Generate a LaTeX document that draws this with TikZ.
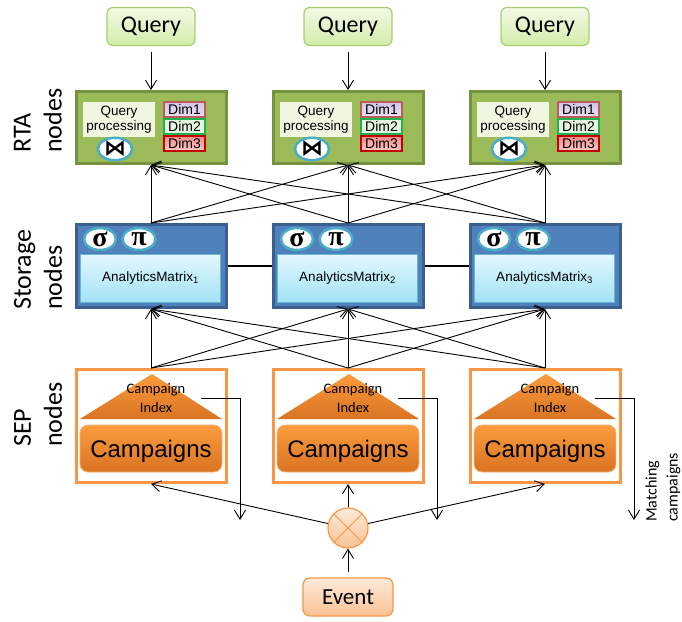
\documentclass[tikz,border=0pt]{standalone}
\usepackage{fontspec}
\setmainfont{Liberation Sans}
\newfontfamily\calibfont{Carlito}
\newfontfamily\symbfont{Liberation Serif}
\newfontfamily\dejavufont{DejaVu Sans}
\usetikzlibrary{arrows.meta,shapes.geometric}

% palette
\definecolor{qfillT}{HTML}{F3FAE6}
\definecolor{qfillB}{HTML}{D3ECAA}
\definecolor{qdraw}{HTML}{A8CD6E}
\definecolor{rtafill}{HTML}{9BBB59}
\definecolor{rtadraw}{HTML}{76913F}
\definecolor{qpfill}{HTML}{F0F7E1}
\definecolor{opblue}{HTML}{4BACC6}
\definecolor{stfill}{HTML}{4F81BD}
\definecolor{stdraw}{HTML}{3B6090}
\definecolor{amT}{HTML}{E2F7FD}
\definecolor{amB}{HTML}{A2E3F5}
\definecolor{seporange}{HTML}{F79646}
\definecolor{campT}{HTML}{FB9C3E}
\definecolor{campB}{HTML}{D97322}
\definecolor{campline}{HTML}{F8B47C}
\definecolor{dimAT}{HTML}{D2C3E6}
\definecolor{dimAB}{HTML}{EAE2F3}
\definecolor{dimAdraw}{HTML}{BD5A5C}
\definecolor{dimBfill}{HTML}{E6F6E2}
\definecolor{dimBdraw}{HTML}{1DB14F}
\definecolor{dimCT}{HTML}{F48A8A}
\definecolor{dimCB}{HTML}{FFCACA}
\definecolor{dimCdraw}{HTML}{C40000}
\definecolor{evT}{HTML}{FDEADB}
\definecolor{evB}{HTML}{FBC293}

\begin{document}
\begin{tikzpicture}[x=1pt,y=-1pt,
  querybox/.style={draw=qdraw, line width=1.2pt, rounded corners=6pt,
    top color=qfillT, bottom color=qfillB, minimum width=88pt, minimum height=38pt,
    font=\calibfont\fontsize{24}{28}\selectfont},
  rtabox/.style={draw=rtadraw, fill=rtafill, line width=3pt,
    minimum width=150pt, minimum height=72pt},
  qproc/.style={fill=qpfill, minimum width=72pt, minimum height=35pt, inner sep=0pt,
    align=center, font=\fontsize{13.5}{15}\selectfont},
  opnode/.style={ellipse, draw=opblue, fill=white, line width=2.5pt,
    minimum height=20pt, inner sep=0pt},
  dimbox/.style={minimum width=41pt, minimum height=15pt, line width=1.2pt,
    inner sep=0pt, font=\fontsize{14}{14}\selectfont},
  stbox/.style={draw=stdraw, fill=stfill, line width=3pt,
    minimum width=150pt, minimum height=83pt},
  matrixbox/.style={draw=opblue!85, line width=1pt, top color=amT, bottom color=amB,
    minimum width=140pt, minimum height=48pt, inner sep=0pt,
    font=\fontsize{13.5}{15}\selectfont},
  sepbox/.style={draw=seporange, fill=white, line width=3pt,
    minimum width=150pt, minimum height=113pt},
  campbox/.style={draw=campline, line width=0.8pt, rounded corners=8pt,
    top color=campT, bottom color=campB, minimum width=142pt, minimum height=47pt,
    font=\fontsize{24}{28}\selectfont},
  idxtext/.style={align=center, inner sep=0pt, font=\calibfont\fontsize{14.5}{19}\selectfont},
  sidelabel/.style={rotate=90, anchor=west, align=left, inner sep=0pt,
    font=\calibfont\fontsize{26}{31}\selectfont},
  opsym/.style={font=\symbfont\bfseries\fontsize{28}{28}\selectfont},
  joinsym/.style={font=\dejavufont\bfseries\fontsize{22}{22}\selectfont},
  flow/.style={line width=0.9pt, -{Straight Barb[length=9pt,width=11pt]}}
]
\useasboundingbox (0,0) rectangle (682,621);

% layer labels
\node[sidelabel] (lrta) at (38,153) {RTA\\nodes};
\node[sidelabel] (lst) at (38,310) {Storage\\nodes};
\node[sidelabel] (lsep) at (38,447) {SEP\\nodes};

% queries and analytics nodes
\foreach \k/\cx in {1/151,2/348,3/545}{
  \node[querybox] (q\k) at (\cx,26.5) {Query};
  \node[rtabox] (rta\k) at (\cx,127.5) {};
  \node[qproc] (qp\k) at (\cx-32,119.5) {Query\\processing};
}
\foreach \k/\cx in {1/151,2/348,3/545}{
  \node[opnode, minimum width=34pt, joinsym] (join\k) at (\cx-36,149) {⋈};
}
\foreach \k/\cx in {1/151,2/348,3/545}{
  \node[dimbox, draw=dimAdraw, top color=dimAT, bottom color=dimAB] (da\k) at (\cx+33.5,109.5) {Dim1};
  \node[dimbox, draw=dimBdraw, fill=dimBfill] (db\k) at (\cx+33.5,126.5) {Dim2};
  \node[dimbox, draw=dimCdraw, top color=dimCT, bottom color=dimCB] (dc\k) at (\cx+33.5,143.5) {Dim3};
}
\foreach \k in {1,2,3}{
  \draw[flow, shorten <=6pt] (q\k.south) -- (rta\k.north);
}

% storage nodes
\foreach \k/\cx in {1/151,2/348,3/545}{
  \node[stbox] (st\k) at (\cx,266) {};
  \node[matrixbox] (am\k) at (\cx-0.5,278) {AnalyticsMatrix\textsubscript{\k}};
}
\foreach \k/\cx in {1/151,2/348,3/545}{
  \node[opnode, minimum width=32pt, minimum height=22pt, opsym] (sel\k) at (\cx-51,239) {σ};
  \node[opnode, minimum width=33pt, minimum height=22pt, opsym] (proj\k) at (\cx-12,239) {π};
}

% SEP nodes
\foreach \k/\cx in {1/151,2/348,3/545}{
  \node[sepbox] (sep\k) at (\cx,426) {};
}
\foreach \k/\cx in {1/151,2/348,3/545}{
  \shade[top color=campT, bottom color=campB] (\cx+1,374) -- (\cx+71,419) -- (\cx-71,419) -- cycle;
}
\foreach \k/\cx in {1/151,2/348,3/545}{
  \node[idxtext] (idx\k) at (\cx+5,398) {Campaign\\Index};
  \node[campbox, text depth=1pt] (camp\k) at (\cx,448.5) {\raisebox{-2pt}{Campaigns}};
}

% matching campaigns output
\foreach \k/\cx in {1/151,2/348,3/545}{
  \coordinate (ms\k) at (\cx+50,398);
  \coordinate (me\k) at (\cx+89,520);
}
\foreach \k in {1,2,3}{
  \draw[flow] (ms\k) -| (me\k);
}

% storage interconnect
\draw[line width=2pt] (st1.east) -- (st2.west);
\draw[line width=2pt] (st2.east) -- (st3.west);

% all-to-all connections between layers
\foreach \a in {1,2,3}{
  \foreach \b in {1,2,3}{
    \draw[flow] (sep\a.north) -- (st\b.south);
    \draw[flow] (st\a.north) -- (rta\b.south);
  }
}

% event dispatch
\node[circle, draw=seporange, line width=1.2pt, top color=evT, bottom color=evB,
  minimum size=40pt, inner sep=0pt] (mux) at (348,528) {};
\draw[seporange, line width=1pt] (mux.north west) -- (mux.south east);
\draw[seporange, line width=1pt] (mux.north east) -- (mux.south west);
\node[draw=seporange, line width=1.2pt, rounded corners=7pt, top color=evT, bottom color=evB,
  minimum width=90pt, minimum height=38pt, font=\calibfont\fontsize{23}{27}\selectfont]
  (ev) at (348,597) {Event};
\draw[flow, shorten <=5pt] (ev.north) -- (mux.south);
\draw[flow] (mux.north) -- (sep2.south);
\draw[flow] (mux) -- (sep1.south);
\draw[flow] (mux) -- (sep3.south);

\node[sidelabel, font=\calibfont\fontsize{16}{21}\selectfont] (mlabel) at (663,522)
  {Matching\\campaigns};
\end{tikzpicture}
\end{document}
